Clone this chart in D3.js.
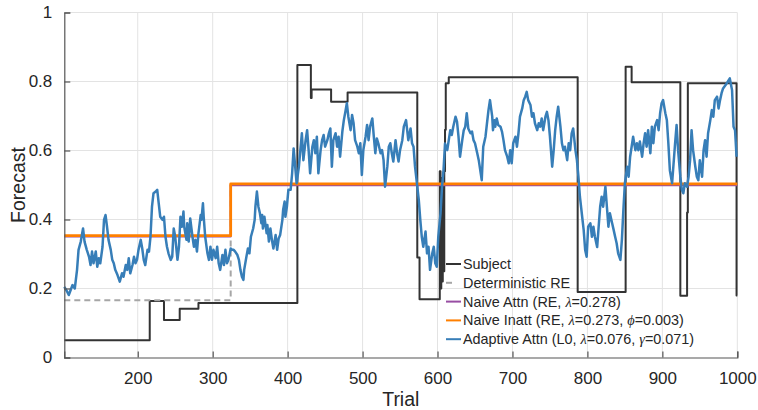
<!DOCTYPE html>
<html><head><meta charset="utf-8">
<script src="https://cdn.jsdelivr.net/npm/d3@7"></script>
<style>body{margin:0;background:#fff}svg{display:block}text{font-family:"Liberation Sans",Arial,sans-serif;fill:#262626}</style>
</head><body><svg id="c" width="758" height="410"></svg>
<script>
const xDomain = [102, 1000];
const yDomain = [0, 1];
const xTicks = [200, 300, 400, 500, 600, 700, 800, 900, 1000];
const yTicks = [0, 0.2, 0.4, 0.6, 0.8, 1];
const yTickLabels = ["0", "0.2", "0.4", "0.6", "0.8", "1"];
const xLabel = "Trial";
const yLabel = "Forecast";

const subjectSeries = [[102,.05],[216,.164],[235,.109],[256,.141],[281,.158],[413,.848],[431,.752],[432,.777],[458,.741],[480,.768],[573,.29],[576,.169],[603,.54],[604,.2],[605,.52],[606,.22],[607,.5],[608,.25],[609,.54],[610,.66],[611,.795],[615,.812],[787,.19],[851,.843],[859,.798],[924,.179],[933,.42],[934,.795],[999,.18],[1000,.18]];
const deterministicSeries = [[102,.166],[324,.5],[1000,.5]];
const naiveAttnSeries = [[102,.351],[324,.499],[1000,.499]];
const naiveInattSeries = [[102,.353],[324,.503],[1000,.503]];
const adaptiveSeries = [[102,.205],[106,.19],[108,.181],[113,.21],[116,.2],[119,.254],[121,.312],[124,.336],[127,.374],[129,.336],[132,.312],[135,.292],[137,.268],[139,.307],[141,.273],[144,.307],[146,.263],[148,.288],[150,.273],[153,.321],[155,.399],[157,.413],[159,.379],[161,.341],[164,.312],[166,.283],[168,.273],[170,.254],[173,.239],[176,.22],[179,.244],[181,.234],[184,.268],[186,.254],[188,.288],[190,.244],[193,.268],[195,.292],[197,.273],[199,.283],[201,.312],[204,.341],[206,.316],[208,.283],[210,.268],[213,.312],[215,.307],[217,.35],[219,.437],[221,.476],[224,.481],[226,.486],[228,.447],[230,.408],[233,.399],[235,.408],[237,.35],[239,.321],[241,.302],[244,.283],
[246,.292],[248,.374],[250,.35],[253,.283],[255,.321],[257,.408],[259,.379],[261,.423],[262,.379],[265,.341],[266,.389],[268,.336],[270,.403],[273,.35],[275,.321],[277,.341],[279,.307],[281,.36],[284,.413],[285,.399],[287,.447],[288,.408],[290,.35],[293,.302],[295,.283],[297,.321],[299,.283],[301,.312],[304,.288],[306,.321],[308,.273],[310,.254],[313,.297],[315,.268],[317,.312],[319,.273],[321,.283],[324,.316],[326,.312],[328,.312],[330,.307],[333,.297],[335,.283],[337,.254],[339,.234],[341,.225],[342,.254],[345,.292],[347,.316],[349,.302],[351,.35],[354,.374],[356,.399],[357,.437],[359,.481],[361,.437],[363,.418],[365,.389],[366,.413],[367,.374],[369,.408],[372,.36],[373,.384],[375,.336],[377,.374],[379,.341],[381,.316],[384,.355],[386,.312],[388,.345],[390,.355],[393,.399],[394,.428],[396,.452],[397,.408],[399,.437],[401,.486],[404,.486],[406,.534],[408,.606],[412,.505],[415,.553],[417,.601],[419,.65],[421,.572],[424,.63],[426,.659],[428,.601],[430,.534],[433,.611],[435,.63],[437,.592],[439,.64],[441,.534],[444,.601],[446,.63],[448,.645],[450,.611],[453,.63],[455,.65],[457,.664],[459,.553],[461,.63],[464,.65],[466,.611],[468,.64],[470,.582],[473,.655],[475,.688],[477,.712],[479,.737],[481,.698],[484,.659],[486,.703],[488,.679],[490,.63],[493,.611],[495,.592],[497,.621],[499,.529],[501,.601],[504,.64],[506,.674],[508,.63],[510,.669],[513,.693],[515,.64],[517,.592],[519,.635],[521,.621],[524,.592],[526,.601],[528,.572],[530,.495],[533,.553],[535,.611],[537,.621],[539,.592],[541,.568],[544,.63],[546,.592],[548,.568],[550,.601],[553,.63],[555,.669],[558,.688],[561,.63],[564,.664],[566,.621],[568,.611],[570,.553],[573,.495],[575,.457],[577,.399],[579,.35],[581,.321],[584,.365],[586,.302],[588,.321],[590,.254],[593,.302],[595,.321],[597,.273],[599,.263],[601,.35],[604,.418],[606,.495],[608,.543],[610,.62],[613,.601],[615,.63],[617,.659],[619,.645],[621,.669],[624,.698],[626,.684],[628,.64],[630,.582],[633,.63],[635,.659],[637,.669],[639,.708],[641,.664],[644,.65],[646,.655],[648,.63],[650,.621],[653,.592],[655,.572],[657,.543],[659,.514],[661,.611],[664,.64],[666,.679],[668,.717],[670,.746],[673,.698],[674,.659],[676,.688],[677,.669],[679,.693],[681,.674],[684,.669],[686,.655],[688,.63],[690,.601],[693,.582],[695,.563],[697,.601],[699,.563],[701,.621],[704,.64],[706,.611],[708,.65],[710,.698],[713,.722],[715,.746],[717,.756],[719,.77],[721,.746],[724,.732],[726,.698],[728,.708],[730,.679],[733,.659],[735,.679],[737,.669],[739,.693],[741,.659],[744,.698],[746,.712],[748,.688],[750,.64],[753,.553],[755,.601],[757,.659],[759,.698],[761,.727],[764,.669],[766,.621],[768,.601],[770,.611],[773,.572],[775,.621],[777,.601],[779,.65],[781,.664],[784,.601],[786,.572],[788,.524],[790,.466],[793,.408],[795,.37],[797,.312],[799,.292],[801,.379],[804,.389],[806,.35],[808,.379],[810,.35],[813,.32],[815,.379],[817,.437],[819,.466],[821,.437],[824,.495],[826,.437],[828,.379],[830,.418],[833,.389],[835,.37],[837,.35],[839,.331],[841,.302],[844,.283],[846,.341],[848,.428],[850,.505],[853,.553],[855,.524],[857,.582],[859,.611],[861,.64],[864,.601],[866,.621],[868,.601],[870,.626],[873,.582],[875,.621],[877,.65],[879,.611],[881,.659],[884,.592],[886,.669],[888,.621],[890,.669],[893,.688],[895,.659],[897,.708],[899,.737],[901,.746],[904,.708],[906,.688],[908,.621],[910,.543],[913,.505],[915,.563],[917,.621],[919,.674],[921,.601],[924,.524],[926,.486],[928,.476],[930,.505],[933,.495],[935,.524],[937,.572],[939,.659],[941,.601],[944,.553],[946,.524],[948,.514],[950,.572],[953,.524],[955,.601],[957,.63],[959,.582],[961,.65],[964,.688],[966,.717],[968,.698],[970,.746],[973,.756],[975,.722],[977,.746],[979,.766],[981,.78],[986,.795],[990,.809],[993,.775],[995,.669],[997,.659],[999,.582]];

const legendItems = [
  {key:"subject", parts:[["Subject",0]]},
  {key:"det", parts:[["Deterministic RE",0]]},
  {key:"naiveAttn", parts:[["Naive Attn (RE, ",0],["λ",1],["=0.278)",0]]},
  {key:"naiveInatt", parts:[["Naive Inatt (RE, ",0],["λ",1],["=0.273, ",0],["ϕ",1],["=0.003)",0]]},
  {key:"adaptive", parts:[["Adaptive Attn (L0, ",0],["λ",1],["=0.076, ",0],["γ",1],["=0.071)",0]]}
];

const styles = {
  subject:{stroke:"#333333", width:2, dash:null},
  det:{stroke:"#a6a6a6", width:2, dash:"6,4"},
  naiveAttn:{stroke:"#984ea3", width:2, dash:null},
  naiveInatt:{stroke:"#ff7f00", width:2.8, dash:null},
  adaptive:{stroke:"#377eb8", width:2.5, dash:null}
};

const W = 758, H = 410;
const m = {left:64.3, right:W-737.3, top:12.5, bottom:H-357.5};
const svg = d3.select("#c");
const x = d3.scaleLinear().domain(xDomain).range([m.left, W-m.right]);
const y = d3.scaleLinear().domain(yDomain).range([H-m.bottom, m.top]);

// grid
const grid = svg.append("g");
grid.selectAll(".gx").data(xTicks).enter().append("line")
  .attr("x1", d=>x(d)).attr("x2", d=>x(d)).attr("y1", y(0)).attr("y2", y(1))
  .attr("stroke", "#e3e3e3").attr("stroke-width", 1);
grid.selectAll(".gy").data(yTicks.filter(d=>d>0)).enter().append("line")
  .attr("x1", x(xDomain[0])).attr("x2", x(xDomain[1])).attr("y1", d=>y(d)).attr("y2", d=>y(d))
  .attr("stroke", "#e3e3e3").attr("stroke-width", 1);

// series
const plot = svg.append("g");
function drawLine(data, st, curve){
  const gen = d3.line().x(d=>x(d[0])).y(d=>y(d[1])).curve(curve);
  const p = plot.append("path").datum(data).attr("d", gen)
    .attr("fill","none").attr("stroke", st.stroke).attr("stroke-width", st.width)
    .attr("stroke-linejoin","round");
  if (st.dash) p.attr("stroke-dasharray", st.dash);
}
drawLine(subjectSeries, styles.subject, d3.curveStepAfter);
drawLine(deterministicSeries, styles.det, d3.curveStepAfter);
drawLine(naiveAttnSeries, styles.naiveAttn, d3.curveStepAfter);
drawLine(naiveInattSeries, styles.naiveInatt, d3.curveStepAfter);
drawLine(adaptiveSeries, styles.adaptive, d3.curveLinear);

// axes
const axX = d3.axisBottom(x).tickValues(xTicks).tickSize(-6).tickPadding(14).tickFormat(d3.format("d"));
const gx = svg.append("g").attr("transform", `translate(0,${y(0)})`).call(axX);
const axY = d3.axisLeft(y).tickValues(yTicks).tickSize(-6).tickPadding(12).tickFormat((d,i)=>yTickLabels[i]);
const gy = svg.append("g").attr("transform", `translate(${x(xDomain[0])},0)`).call(axY);
[gx, gy].forEach(g=>{
  g.select(".domain").attr("stroke","#555").attr("stroke-width",1.2);
  g.selectAll(".tick line").attr("stroke","#555").attr("stroke-width",1.2);
  g.selectAll("text").attr("font-size", 17).attr("fill","#262626")
    .attr("font-family",'"Liberation Sans",Arial,sans-serif');
});

svg.append("text").attr("x", (x(xDomain[0])+x(xDomain[1]))/2).attr("y", 406)
  .attr("text-anchor","middle").attr("font-size", 19.5).text(xLabel);
svg.append("text").attr("transform", `translate(25,${(y(0)+y(1))/2}) rotate(-90)`)
  .attr("text-anchor","middle").attr("font-size", 19.5).text(yLabel);

// legend
const lg = svg.append("g").attr("transform","translate(446,264)");
legendItems.forEach((it,i)=>{
  const gy0 = i*18.8;
  const st = styles[it.key];
  lg.append("line").attr("x1",0).attr("x2", it.key==="det"?6:15).attr("y1",gy0).attr("y2",gy0)
    .attr("stroke", st.stroke).attr("stroke-width", 2);
  const t = lg.append("text").attr("x",17).attr("y",gy0).attr("dy","0.35em").attr("font-size",14.4);
  it.parts.forEach(p=>{
    const ts = t.append("tspan").text(p[0]);
    if (p[1]) ts.attr("font-family",'"Liberation Serif","Times New Roman",serif').attr("font-style","italic");
  });
});
</script></body></html>
